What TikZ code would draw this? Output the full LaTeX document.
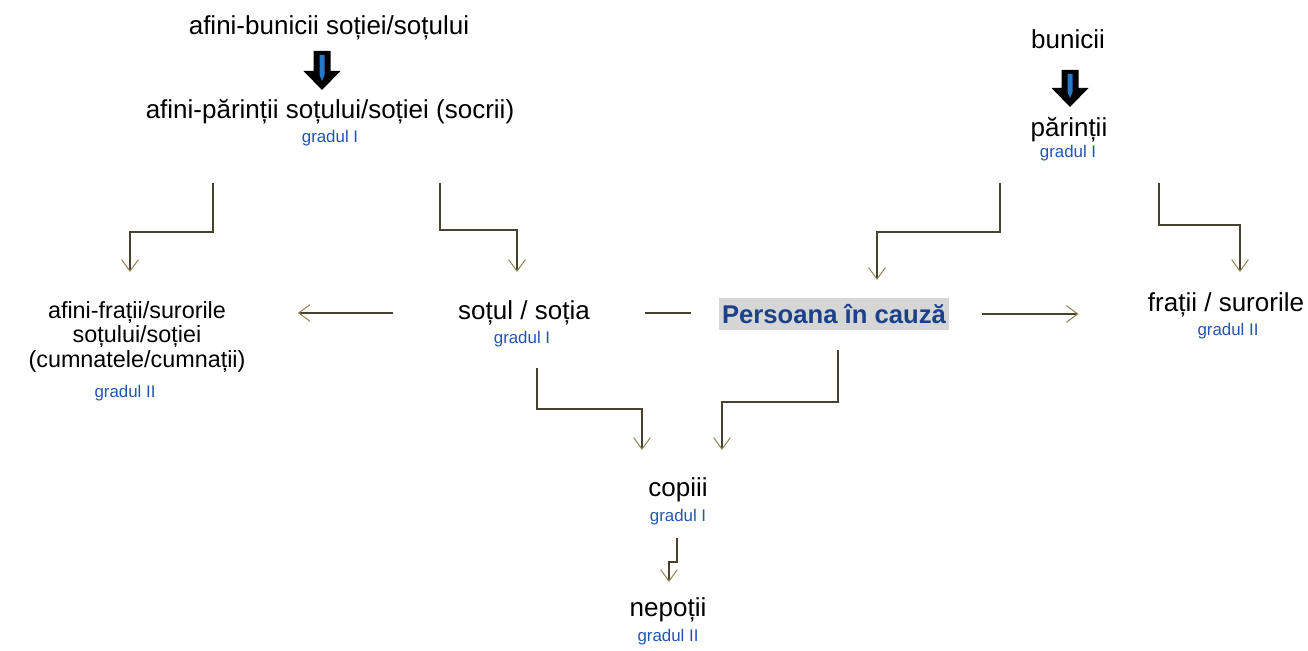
\documentclass[tikz,border=0pt]{standalone}
\usepackage{fontspec}
\setmainfont{Liberation Sans}
\usepackage{tikz}
\usetikzlibrary{arrows.meta, positioning}
\definecolor{gradblue}{RGB}{35,85,175}
\definecolor{persblue}{RGB}{25,65,140}
\definecolor{persgray}{RGB}{214,214,214}
\definecolor{conncol}{RGB}{70,66,48}
\definecolor{tipcol}{RGB}{145,135,85}
\definecolor{stripe}{RGB}{40,120,200}

% fat black arrow pointing down, #1 = top middle, #2 = shaft length
\newcommand{\blockarrow}[2]{
	\fill[black] (#1) ++(-8.5,0) -- ++(0,#2) -- ++(-10,0) -- ++(18.5,19) -- ++(18.5,-19) -- ++(-10,0) -- ++(0,-#2) -- cycle;
	\fill[stripe] (#1) ++(-2.5,4) -- ++(0,#2) -- ++(2.5,6) -- ++(2.5,-6) -- ++(0,-#2) -- cycle;
}

\begin{document}
\begin{tikzpicture}[x=0.02cm, y=-0.02cm,
	rel/.style={inner sep=0pt, align=center, font=\fontsize{14.8}{14.2}\selectfont},
	grad/.style={inner sep=0pt, text=gradblue, font=\fontsize{9.6}{11}\selectfont},
	pers/.style={fill=persgray, text=persblue, inner xsep=1.5pt, inner ysep=0pt, minimum height=0.64cm, font=\fontsize{14.6}{16}\selectfont\bfseries},
	conn/.style={conncol, line width=0.8pt, -{Straight Barb[length=6.5pt, width=9.5pt, line width=0.6pt, color=tipcol]}},
	plain/.style={conncol, line width=0.8pt}]

\useasboundingbox (0,0) rectangle (1308,651);

% spouse side
\node[rel] (bunaf) at (329,28) {afini-bunicii soției/soțului};
\node[rel] (socrii) at (330,112) {afini-părinții soțului/soției (socrii)};
\node[grad] (gsocrii) at (330,138) {gradul I};
\blockarrow{322,51}{20}

% own side
\node[rel] (bunici) at (1068,39) {bunicii};
\node[rel] (parinti) at (1069,130) {părinții};
\node[grad] (gparinti) at (1068,153) {gradul I};
\blockarrow{1070,70}{18}

% middle row
\node[rel, font=\fontsize{13.3}{14.2}\selectfont] (afrati) at (137,337) {afini-frații/surorile\\soțului/soției\\(cumnatele/cumnații)};
\node[grad] (gafrati) at (125,393) {gradul II};
\node[rel] (sotul) at (524,313) {soțul / soția};
\node[grad] (gsotul) at (522,339) {gradul I};
\node[pers] (pers) at (834,314) {Persoana în cauză};
\node[rel] (frati) at (1226,305) {frații / surorile};
\node[grad] (gfrati) at (1228,331) {gradul II};

% descendants
\node[rel] (copii) at (678,490) {copiii};
\node[grad] (gcopii) at (678,517) {gradul I};
\node[rel] (nepoti) at (668,610) {nepoții};
\node[grad] (gnepoti) at (668,637) {gradul II};

% connector ends
\coordinate (sa) at (213,183);  \coordinate (ea) at (130,272);
\coordinate (sb) at (440,183);  \coordinate (eb) at (517,272);
\coordinate (sc) at (1000,183); \coordinate (ec) at (877,280);
\coordinate (sd) at (1159,183); \coordinate (ed) at (1240,272);
\coordinate (se) at (537,368);  \coordinate (ee) at (642,450);
\coordinate (sf) at (838,350);  \coordinate (ef) at (722,450);
\coordinate (sg) at (677,538);  \coordinate (eg) at (669,582);

\draw[conn] (sa) -- ++(0,49) -| (ea);
\draw[conn] (sb) -- ++(0,47) -| (eb);
\draw[conn] (sc) -- ++(0,49) -| (ec);
\draw[conn] (sd) -- ++(0,42) -| (ed);
\draw[conn] (se) -- ++(0,41) -| (ee);
\draw[conn] (sf) -- ++(0,52) -| (ef);
\draw[conn] (sg) -- ++(0,24) -| (eg);

\draw[conn, shorten <=1.3cm, shorten >=1.04cm] (sotul.west) -- (sotul.west -| afrati.east);
\draw[plain, shorten <=1.1cm, shorten >=0.56cm] (sotul.east) -- (sotul.east -| pers.west);
\draw[conn, shorten <=0.66cm, shorten >=1.38cm] (pers.east) -- (pers.east -| frati.west);

\end{tikzpicture}
\end{document}
